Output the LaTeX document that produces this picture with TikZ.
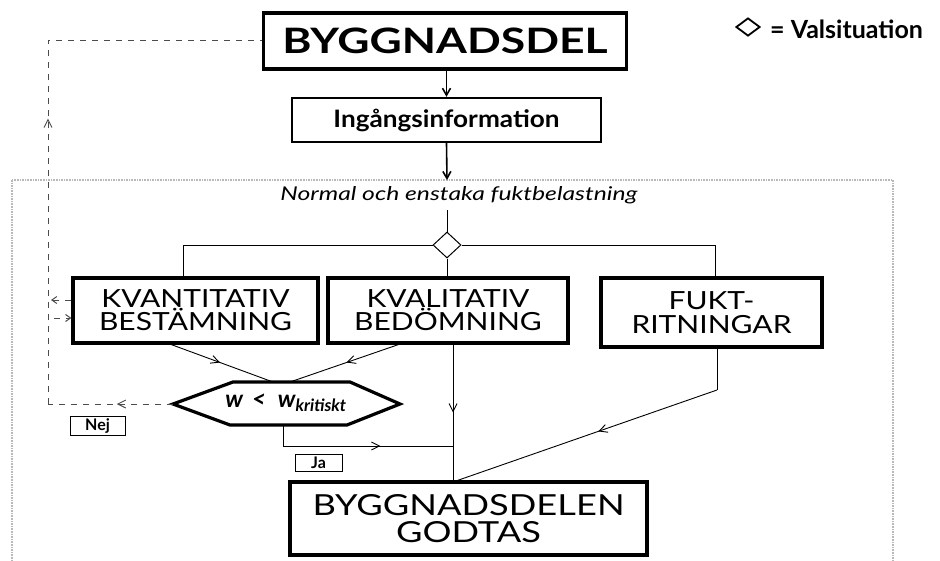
\documentclass[tikz,border=0pt]{standalone}
\usepackage{fontspec}
\setmainfont{Lato}
\newfontfamily\fA[FakeStretch=1.27]{Lato}
\newfontfamily\fB[FakeStretch=1.09]{Lato}
\newfontfamily\fC[FakeStretch=1.2]{Lato}
\newfontfamily\fD[FakeStretch=1.25]{Lato}
\newfontfamily\fE[FakeStretch=1.3]{Lato}
\usetikzlibrary{arrows.meta,decorations.markings,shapes.geometric}
\begin{document}
\begin{tikzpicture}[x=1pt,y=-1pt,
  box/.style={draw,line width=3.2pt,inner sep=0pt,align=center},
  conn/.style={line width=0.9pt},
  mainarrow/.style={line width=1.6pt,-{Straight Barb[length=7pt,width=8pt]}},
  midarrow/.style={postaction={decorate},decoration={markings,mark=at position #1 with {\arrow{Straight Barb[length=8pt,width=8pt,line width=0.9pt]}}}},
  dashline/.style={dashed,dash pattern=on 6pt off 6pt,line width=1pt,gray!60!black},
  tag/.style={draw,line width=1pt,inner sep=0pt,minimum height=19pt,font=\fontsize{16}{16}\selectfont\bfseries}
]
\useasboundingbox (0,0) rectangle (940,560);
\fill[white] (0,0) rectangle (940,560);
% frame
\draw[gray!55,line width=1.6pt,densely dotted] (12,180) rectangle (893,575);
% nodes
\node[box,minimum width=363pt,minimum height=56pt,font=\fA\fontsize{35}{40}\selectfont\bfseries] (bygg) at (445,41) {BYGGNADSDEL};
\node[box,line width=2.4pt,minimum width=309pt,minimum height=44pt,font=\fB\fontsize{24}{24}\selectfont\bfseries] (ing) at (446.5,120) {Ingångsinformation};
\node[font=\fE\fontsize{19}{22}\selectfont\itshape] (norm) at (459,195) {Normal och enstaka fuktbelastning};
\node[draw,diamond,line width=1pt,minimum width=28pt,minimum height=26pt,inner sep=0pt] (dia) at (447,245) {};
\node[box,minimum width=245pt,minimum height=65pt,font=\fC\fontsize{25}{23}\selectfont] (kvant) at (195.5,310.5) {KVANTITATIV\\BESTÄMNING};
\node[box,minimum width=240pt,minimum height=65pt,font=\fC\fontsize{25}{23}\selectfont] (kval) at (448,310.5) {KVALITATIV\\BEDÖMNING};
\node[box,minimum width=221pt,minimum height=69pt,font=\fC\fontsize{25}{24}\selectfont] (fukt) at (711.5,312.5) {FUKT-\\RITNINGAR};
\node[box,minimum width=357pt,minimum height=73pt,font=\fD\fontsize{29}{27}\selectfont] (godtas) at (468.5,518.5) {BYGGNADSDELEN\\GODTAS};
% hexagon
\coordinate (hw) at (173,404);
\coordinate (htl) at (233,382);
\coordinate (htr) at (350,382);
\coordinate (he) at (400,404);
\coordinate (hbr) at (347,425);
\coordinate (hbl) at (230,425);
\draw[line width=3.2pt,line join=miter] (hw) -- (htl) -- (htr) -- (he) -- (hbr) -- (hbl) -- cycle;
\node[font=\fontsize{24}{24}\selectfont\bfseries\itshape] (hex) at (286,403) {w\hspace{9pt}<\hspace{12pt}w\textsubscript{\fontsize{17}{17}\selectfont kritiskt}};
\coordinate (hin1) at (273,382);
\coordinate (hin2) at (290,382);
\coordinate (hb) at (283,425);
% tags
\node[tag,minimum width=55pt] (nej) at (97.5,426) {Nej};
\node[tag,minimum width=47pt,minimum height=17pt] (ja) at (318.5,462.5) {Ja};
% legend
\node[draw,diamond,line width=1.8pt,minimum width=24pt,minimum height=18pt,inner sep=0pt] (ldia) at (748,27) {};
\node[anchor=west,inner sep=0pt,font=\fontsize{25}{26}\selectfont\bfseries] (ltext) at (770,29) {= Valsituation};
% coordinates
\coordinate (ftop) at (447,180);
\coordinate (nbot) at (447,210);
\coordinate (kvA) at (167,343);
\coordinate (kvB) at (403,343);
\coordinate (kvC) at (453,343);
\coordinate (gin) at (453,482);
\coordinate (jn) at (453,446);
\coordinate (jc) at (283,446);
\coordinate (fA) at (717,347);
\coordinate (fB) at (717,390);
\coordinate (nejA) at (48,404);
\coordinate (nejB) at (48,40);
\coordinate (fbA) at (48,300);
\coordinate (fbB) at (48,318);
% connectors
\draw[mainarrow] (bygg.south -| ing.north) -- (ing.north);
\draw[mainarrow] (ing.south) -- (ftop);
\draw[conn] (nbot) -- (dia.north);
\draw[conn] (dia.west) -| ([xshift=-12.5pt]kvant.north);
\draw[conn] (dia.south) -- (dia.south |- kval.north);
\draw[conn] (dia.east) -| ([xshift=3.5pt]fukt.north);
\draw[conn,midarrow=0.5] (kvA) -- (hin1);
\draw[conn,midarrow=0.5] (kvB) -- (hin2);
\draw[conn,midarrow=0.5] (kvC) -- (gin);
\draw[conn,midarrow=0.62] (hb) -- (jc) -- (jn);
\draw[conn] (fA) -- (fB);
\draw[conn,midarrow=0.45] (fB) -- (gin);
\draw[dashline,midarrow=0.45] (hw) -- (nejA);
\draw[dashline,midarrow=0.494] (nejA) -- (nejB) -- (bygg.west |- nejB);
\draw[dashline,-{Straight Barb[length=5pt,width=7pt]}] (kvant.west |- fbA) -- ([xshift=3pt]fbA);
\draw[dashline,-{Straight Barb[length=5pt,width=7pt]}] ([xshift=6pt]fbB) -- (kvant.west |- fbB);
\end{tikzpicture}
\end{document}
